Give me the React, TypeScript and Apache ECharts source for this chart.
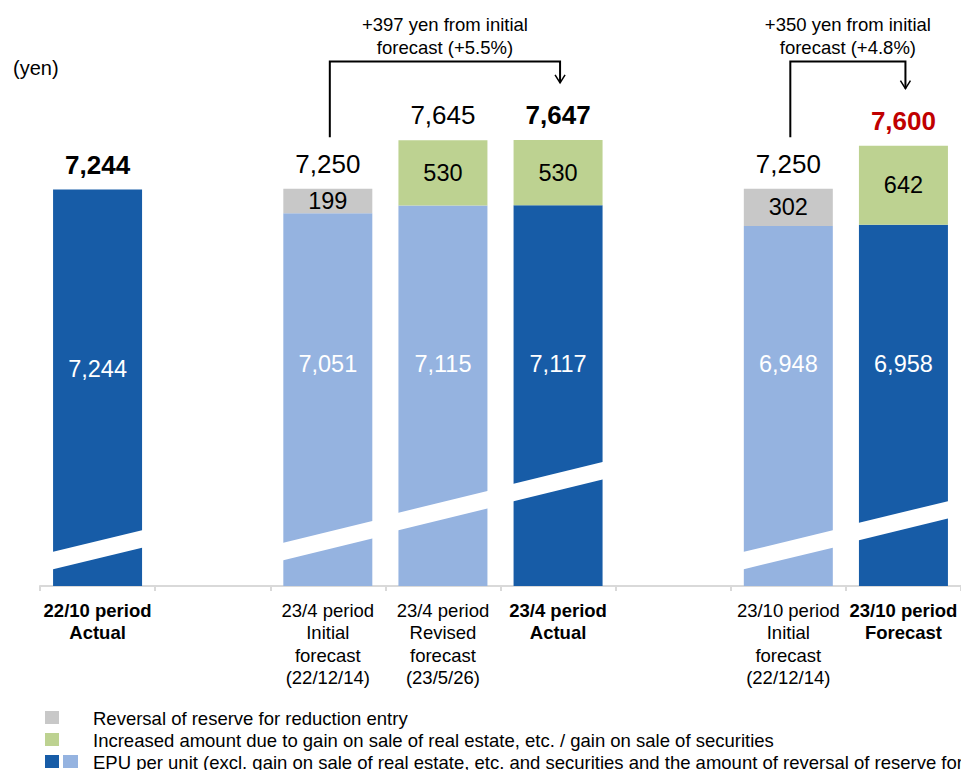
import React, { useEffect, useRef } from 'react';
import * as echarts from 'echarts';

// Periods along the x axis (blank slots separate the groups)
const categories = [
  '22/10 period\nActual',
  '',
  '23/4 period\nInitial\nforecast\n(22/12/14)',
  '23/4 period\nRevised\nforecast\n(23/5/26)',
  '23/4 period\nActual',
  ' ',
  '23/10 period\nInitial\nforecast\n(22/12/14)',
  '23/10 period\nForecast',
];
const boldCategory = [true, false, false, false, true, false, false, true];

// EPU per unit excluding one-off items (yen)
const epuValues = [7244, null, 7051, 7115, 7117, null, 6948, 6958];
// true = actual / current forecast (dark), false = earlier forecasts (light)
const epuIsFinal = [true, null, false, false, true, null, false, true];
// Reversal of reserve for reduction entry (yen)
const reserveReversal = [null, null, 199, null, null, null, 302, null];
// Increased amount due to gain on sale of real estate / securities (yen)
const saleGain = [null, null, null, 530, 530, null, null, 642];
// How each total is emphasised
const totalEmphasis = ['bold', null, 'normal', 'normal', 'bold', null, 'normal', 'highlight'];
// Upper-left level of the white axis-break band drawn across each bar
const breakLevels = [4296, null, 4370, 4614, 4850, null, 4296, 4532];
// Initial forecast -> later figure comparisons
const comparisons = [
  { from: 2, to: 4 },
  { from: 6, to: 7 },
];

const legendLabels = [
  'Reversal of reserve for reduction entry',
  'Increased amount due to gain on sale of real estate, etc. / gain on sale of securities',
  'EPU per unit (excl. gain on sale of real estate, etc. and securities and the amount of reversal of reserve for reduction entry)',
];

const FONT = '"Liberation Sans", Arial, Helvetica, sans-serif';
const DARK_BLUE = '#175CA7';
const LIGHT_BLUE = '#95B3E0';
const GREEN = '#BDD291';
const GREY = '#C8C8C8';
const RED = '#C00000';
const AXIS_GREY = '#D9D9D9';

const BAR_WIDTH = 89;
const Y_MIN = 4020;
const Y_MAX = 8460;
const BREAK_RISE = 180;
const BREAK_GAP = 142;
const BRACKET_TOP = 8285;
const BRACKET_START = 420;
const ARROW_GAP = 465;

const totals = epuValues.map((v, i) =>
  v == null ? null : v + (reserveReversal[i] ?? 0) + (saleGain[i] ?? 0)
);
const fmt = (n: number) => n.toLocaleString('en-US');

export default function App() {
  const ref = useRef<HTMLDivElement>(null);

  useEffect(() => {
    if (!ref.current) return;
    const chart = echarts.init(ref.current, undefined, { renderer: 'svg' });

    const segmentLabel = {
      show: true,
      position: 'inside',
      color: '#000',
      fontSize: 23.5,
      fontFamily: FONT,
      textBorderWidth: 0,
      formatter: (p: any) => fmt(p.value),
    };

    const option: any = {
      animation: false,
      textStyle: { fontFamily: FONT },
      grid: { left: 40, width: 924, top: 40, bottom: 184 },
      xAxis: {
        type: 'category',
        data: categories,
        axisLine: { show: true, lineStyle: { color: AXIS_GREY, width: 2 } },
        axisTick: { show: true, length: 5, lineStyle: { color: AXIS_GREY, width: 2 } },
        axisLabel: {
          interval: 0,
          margin: 13,
          color: '#000',
          fontSize: 18.5,
          lineHeight: 22.5,
          fontFamily: FONT,
          formatter: (value: string, idx: number) =>
            boldCategory[idx]
              ? value
                  .split('\n')
                  .map((l) => `{b|${l}}`)
                  .join('\n')
              : value,
          rich: {
            b: { fontWeight: 'bold', fontSize: 18.5, lineHeight: 22.5, color: '#000', fontFamily: FONT },
          },
        },
      },
      yAxis: { type: 'value', min: Y_MIN, max: Y_MAX, show: false },
      series: [
        {
          name: 'EPU',
          type: 'bar',
          stack: 'epu',
          barWidth: BAR_WIDTH,
          data: epuValues.map((v, i) =>
            v == null
              ? null
              : {
                  value: v,
                  itemStyle: { color: epuIsFinal[i] ? DARK_BLUE : LIGHT_BLUE },
                  label: i === 0 ? { distance: 205.5 } : undefined,
                }
          ),
          label: {
            show: true,
            position: 'insideBottom',
            distance: 210,
            color: '#fff',
            fontSize: 23.5,
            lineHeight: 24,
            fontFamily: FONT,
            textBorderWidth: 0,
            formatter: (p: any) => fmt(p.value),
          },
        },
        {
          name: 'Reversal',
          type: 'bar',
          stack: 'epu',
          barWidth: BAR_WIDTH,
          itemStyle: { color: GREY },
          data: reserveReversal,
          label: segmentLabel,
        },
        {
          name: 'Gain',
          type: 'bar',
          stack: 'epu',
          barWidth: BAR_WIDTH,
          itemStyle: { color: GREEN },
          data: saleGain,
          label: segmentLabel,
        },
        {
          // Total of each stacked bar, written just above it
          name: 'Total',
          type: 'custom',
          silent: true,
          z: 4,
          clip: false,
          data: totals.map((t, i) => (t == null ? null : [i, t])).filter((d) => d != null),
          renderItem: (_params: any, api: any) => {
            const cat = api.value(0);
            const total = api.value(1);
            const [x, y] = api.coord([cat, total]);
            const emphasis = totalEmphasis[cat];
            return {
              type: 'text',
              x,
              y: y - 12,
              style: {
                text: fmt(total),
                fontSize: 26,
                lineHeight: 26,
                fontFamily: FONT,
                fontWeight: emphasis === 'normal' ? 'normal' : 'bold',
                fill: emphasis === 'highlight' ? RED : '#000',
                align: 'center',
                verticalAlign: 'bottom',
              },
            };
          },
        },
        {
          name: 'Break',
          type: 'custom',
          silent: true,
          z: 5,
          clip: false,
          data: breakLevels
            .map((lv, i) => (lv == null ? null : [i, lv]))
            .filter((d) => d != null),
          renderItem: (_params: any, api: any) => {
            const cat = api.value(0);
            const level = api.value(1);
            const [cx, yL] = api.coord([cat, level]);
            const yR = api.coord([cat, level + BREAK_RISE])[1];
            const yL2 = api.coord([cat, level - BREAK_GAP])[1];
            const yR2 = api.coord([cat, level + BREAK_RISE - BREAK_GAP])[1];
            const l = cx - BAR_WIDTH / 2 - 1;
            const r = cx + BAR_WIDTH / 2 + 1;
            return {
              type: 'polygon',
              shape: { points: [[l, yL], [r, yR], [r, yR2], [l, yL2]] },
              style: { fill: '#fff' },
            };
          },
        },
        {
          name: 'Comparison',
          type: 'custom',
          silent: true,
          z: 6,
          clip: false,
          encode: { x: 0, y: 2 },
          data: comparisons.map((c) => [c.from, c.to, totals[c.from], totals[c.to]]),
          renderItem: (_params: any, api: any) => {
            const from = api.value(0);
            const to = api.value(1);
            const fromTotal = api.value(2);
            const toTotal = api.value(3);
            const a = api.coord([from, fromTotal + BRACKET_START]);
            const b = api.coord([to, toTotal + ARROW_GAP]);
            const top = api.coord([from, BRACKET_TOP])[1];
            const x1 = a[0] + 2;
            const x2 = b[0] + 2;
            const diff = toTotal - fromTotal;
            const pct = (diff / fromTotal) * 100;
            return {
              type: 'group',
              children: [
                {
                  type: 'polyline',
                  shape: { points: [[x1, a[1]], [x1, top], [x2, top], [x2, b[1]]] },
                  style: { stroke: '#000', lineWidth: 2, fill: null },
                },
                {
                  type: 'polyline',
                  shape: { points: [[x2 - 5, b[1] - 8], [x2, b[1]], [x2 + 5, b[1] - 8]] },
                  style: { stroke: '#000', lineWidth: 1.5, fill: null },
                },
                {
                  type: 'text',
                  x: (x1 + x2) / 2,
                  y: top - 3,
                  style: {
                    text: `+${diff} yen from initial\nforecast (+${pct.toFixed(1)}%)`,
                    fontSize: 18.5,
                    lineHeight: 23,
                    fontFamily: FONT,
                    fill: '#000',
                    align: 'center',
                    verticalAlign: 'bottom',
                  },
                },
              ],
            };
          },
        },
      ],
      graphic: [
        {
          type: 'text',
          x: 13,
          y: 68,
          style: { text: '(yen)', fontSize: 20, fontFamily: FONT, fill: '#000', verticalAlign: 'middle' },
        },
        { type: 'rect', x: 45, y: 711, shape: { width: 14, height: 13 }, style: { fill: GREY } },
        { type: 'rect', x: 45, y: 733, shape: { width: 14, height: 13 }, style: { fill: GREEN } },
        { type: 'rect', x: 45, y: 755, shape: { width: 14, height: 13 }, style: { fill: DARK_BLUE } },
        { type: 'rect', x: 63, y: 755, shape: { width: 15, height: 13 }, style: { fill: LIGHT_BLUE } },
        ...legendLabels.map((t, i) => ({
          type: 'text',
          x: 93,
          y: 718 + i * 22,
          style: { text: t, fontSize: 18.5, fontFamily: FONT, fill: '#000', verticalAlign: 'middle' },
        })),
      ],
    };

    chart.setOption(option);
    return () => chart.dispose();
  }, []);

  return (
    <div
      ref={ref}
      style={{ position: 'absolute', left: 0, top: 0, width: 961, height: 770, background: '#fff' }}
    />
  );
}
